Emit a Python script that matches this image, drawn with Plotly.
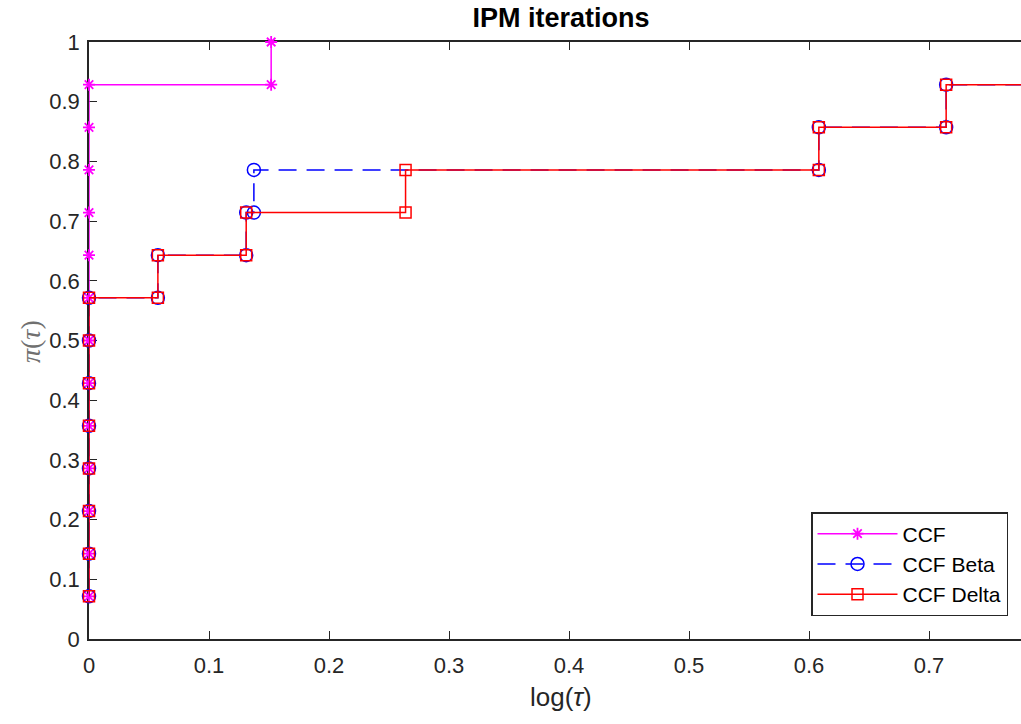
import plotly.graph_objects as go

# Staircase vertices (performance profile) - y values are multiples of 1/14
ccf_x = [0, 0, 0, 0, 0, 0, 0, 0, 0, 0, 0, 0, 0, 0.1518, 0.1518]
ccf_y = [1, 2, 3, 4, 5, 6, 7, 8, 9, 10, 11, 12, 13, 13, 14]

beta_x = [0, 0, 0, 0, 0, 0, 0, 0, 0.0574, 0.0574, 0.131, 0.131, 0.1374, 0.1374,
          0.6082, 0.6082, 0.7143, 0.7143, 0.85]
beta_y = [1, 2, 3, 4, 5, 6, 7, 8, 8, 9, 9, 10, 10, 11, 11, 12, 12, 13, 13]

delta_x = [0, 0, 0, 0, 0, 0, 0, 0, 0.0574, 0.0574, 0.131, 0.131, 0.2638, 0.2638,
           0.6082, 0.6082, 0.7143, 0.7143, 0.85]
delta_y = [1, 2, 3, 4, 5, 6, 7, 8, 8, 9, 9, 10, 10, 11, 11, 12, 12, 13, 13]

n_problems = 14
x_ticks = [0, 0.1, 0.2, 0.3, 0.4, 0.5, 0.6, 0.7]
y_ticks = [0, 0.1, 0.2, 0.3, 0.4, 0.5, 0.6, 0.7, 0.8, 0.9, 1]

def frac(v):
    return [k / n_problems for k in v]

SANS = "Liberation Sans, Arial, sans-serif"
L, T, B, W, H = 89, 42, 85, 1021, 724
PW = W - L

fig = go.Figure()
fig.add_trace(go.Scatter(
    x=ccf_x, y=frac(ccf_y), name="CCF", mode="lines+markers", legendgroup="a",
    line=dict(color="#FF00FF", width=1.5),
    marker=dict(symbol="asterisk-open", size=10, color="#FF00FF",
                line=dict(color="#FF00FF", width=1.8)),
    cliponaxis=False))
fig.add_trace(go.Scatter(
    x=beta_x, y=frac(beta_y), name="CCF Beta", mode="lines+markers", legendgroup="b",
    line=dict(color="#0000FF", width=1.5, dash="18px,10px"),
    marker=dict(symbol="circle-open", size=13, color="#0000FF",
                line=dict(color="#0000FF", width=1.5)),
    cliponaxis=False))
fig.add_trace(go.Scatter(
    x=delta_x, y=frac(delta_y), name="CCF Delta", mode="lines+markers", legendgroup="c",
    line=dict(color="#FF0000", width=1.5),
    marker=dict(symbol="square-open", size=11, color="#FF0000",
                line=dict(color="#FF0000", width=1.5)),
    cliponaxis=False))

tick_font = dict(family=SANS, size=22, color="#262626")

fig.update_layout(
    width=W, height=H,
    margin=dict(l=L, r=0, t=T, b=B),
    paper_bgcolor="white", plot_bgcolor="white",
    title=dict(text="<b>IPM iterations</b>", x=561 / W, xanchor="center",
               y=1 - 18 / H, yanchor="middle",
               font=dict(family=SANS, size=27, color="#000000")),
    showlegend=True,
    legend=dict(x=(1008 - L) / PW, y=(639 - 616) / 597, xanchor="right", yanchor="bottom",
                bgcolor="white", bordercolor="#262626", borderwidth=1.5,
                font=dict(family=SANS, size=21, color="#000000"),
                itemwidth=80, tracegroupgap=0),
    xaxis=dict(range=[0, (W - L) / 1200], tickvals=x_ticks, ticktext=[f"{t:g}" for t in x_ticks],
               ticks="inside", ticklen=8, tickcolor="#262626", tickwidth=1,
               showline=True, linecolor="#262626", linewidth=1.5, mirror="ticks",
               layer="below traces",
               showgrid=False, zeroline=False, tickfont=tick_font, ticklabelstandoff=6),
    yaxis=dict(range=[0, 1], tickvals=y_ticks, ticktext=[f"{t:g}" for t in y_ticks],
               ticks="inside", ticklen=8, tickcolor="#262626", tickwidth=1,
               showline=True, linecolor="#262626", linewidth=1.5,
               layer="below traces",
               showgrid=False, zeroline=False, tickfont=tick_font, ticklabelstandoff=3),
    annotations=[
        dict(text="log(<i>τ</i>)", xref="paper", yref="paper",
             x=(561 - L) / PW, y=-(697 - 639) / 597, xanchor="center", yanchor="middle",
             showarrow=False, font=dict(family=SANS, size=26, color="#262626")),
        dict(text="<i>π</i>(<i>τ</i>)", xref="paper", yref="paper",
             x=-(L - 30) / PW, y=(639 - 342) / 597, xanchor="center", yanchor="middle",
             textangle=-90, showarrow=False,
             font=dict(family="Liberation Serif, serif", size=28, color="#707070")),
    ],
)

fig.write_html("out.html", post_script="document.body.style.margin='0px';",
               config={"displayModeBar": False})
